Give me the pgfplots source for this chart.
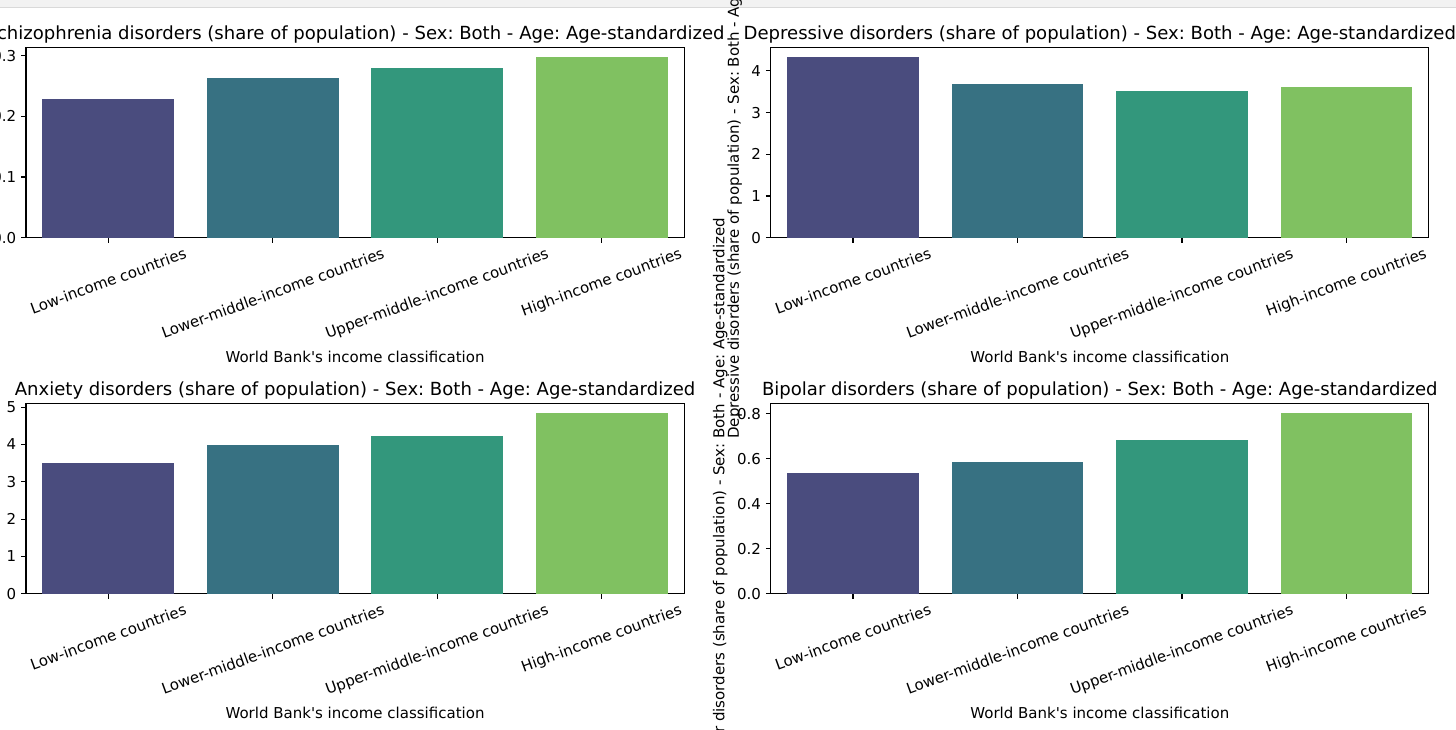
\documentclass[border=0pt]{standalone}
\usepackage{fontspec}
\setmainfont{DejaVu Sans}[Ligatures=TeXOff]
\usepackage{graphicx}
\usepackage{pgfplots}
\pgfplotsset{compat=1.18}
\frenchspacing

% seaborn viridis (4 colours, saturation 0.75)
\definecolor{c1}{HTML}{4A4C7E}
\definecolor{c2}{HTML}{377182}
\definecolor{c3}{HTML}{33977C}
\definecolor{c4}{HTML}{80C161}

\pgfplotsset{
  mpl/.style={
    scale only axis,
    width=473.8pt, height=136.8pt,
    anchor=south west,
    xmin=-0.5, xmax=3.5, ymin=0,
    axis line style={line width=0.8pt},
    every tick/.style={black, line width=0.8pt},
    tick align=outside,
    major tick length=3.5pt,
    xtick={0,1,2,3},
    xticklabels={\rotatebox{20}{Low-income countries},
                 \rotatebox{20}{Lower-middle-income countries},
                 \rotatebox{20}{Upper-middle-income countries},
                 \rotatebox{20}{High-income countries}},
    xticklabel style={anchor=north},
    xtick pos=bottom, ytick pos=left,
    /pgf/number format/assume math mode=true,
    tick label style={font=\fontsize{10.8}{13}\selectfont},
    label style={font=\fontsize{10.8}{13}\selectfont},
    xlabel={World Bank's income classification},
    title style={at={(0.5,1)}, anchor=base, yshift=0pt, font=\fontsize{13}{15.5}\selectfont},
    bar width=0.8,
  },
  bars/.style={ybar, bar shift=0pt, draw=none, fill=#1},
}

\begin{document}
\begin{tikzpicture}
\clip (0,0) rectangle (1048.32pt,524.88pt);
\fill[black!5] (0,519.8pt) rectangle (1048.32pt,524.88pt);
\draw[black!15, line width=0.7pt] (0,519.8pt) -- (1048.32pt,519.8pt);

% Schizophrenia
\begin{axis}[mpl, at={(18.72pt,353.74pt)}, ymax=0.3132,
  ytick={0,0.1,0.2,0.3},
  yticklabel style={/pgf/number format/.cd, fixed, fixed zerofill, precision=1},
  title={Schizophrenia disorders (share of population) - Sex: Both - Age: Age-standardized},
  ylabel={Schizophrenia disorders (share of population) - Sex: Both - Age: Age-standardized}]
\addplot[bars=c1] coordinates {(0,0.2286)};
\addplot[bars=c2] coordinates {(1,0.2627)};
\addplot[bars=c3] coordinates {(2,0.2802)};
\addplot[bars=c4] coordinates {(3,0.2980)};
\end{axis}

% Depressive
\begin{axis}[mpl, at={(554.94pt,353.74pt)}, ymax=4.557,
  ytick={0,1,2,3,4},
  title={Depressive disorders (share of population) - Sex: Both - Age: Age-standardized},
  ylabel={Depressive disorders (share of population) - Sex: Both - Age: Age-standardized}]
\addplot[bars=c1] coordinates {(0,4.34)};
\addplot[bars=c2] coordinates {(1,3.686)};
\addplot[bars=c3] coordinates {(2,3.518)};
\addplot[bars=c4] coordinates {(3,3.62)};
\end{axis}

% Anxiety
\begin{axis}[mpl, at={(18.72pt,97.4pt)}, ymax=5.091,
  ytick={0,1,2,3,4,5},
  title={Anxiety disorders (share of population) - Sex: Both - Age: Age-standardized},
  ylabel={Anxiety disorders (share of population) - Sex: Both - Age: Age-standardized}]
\addplot[bars=c1] coordinates {(0,3.50)};
\addplot[bars=c2] coordinates {(1,3.99)};
\addplot[bars=c3] coordinates {(2,4.22)};
\addplot[bars=c4] coordinates {(3,4.848)};
\end{axis}

% Bipolar
\begin{axis}[mpl, at={(554.94pt,97.4pt)}, ymax=0.8443,
  ytick={0,0.2,0.4,0.6,0.8},
  yticklabel style={/pgf/number format/.cd, fixed, fixed zerofill, precision=1},
  title={Bipolar disorders (share of population) - Sex: Both - Age: Age-standardized},
  ylabel={Bipolar disorders (share of population) - Sex: Both - Age: Age-standardized}]
\addplot[bars=c1] coordinates {(0,0.537)};
\addplot[bars=c2] coordinates {(1,0.585)};
\addplot[bars=c3] coordinates {(2,0.682)};
\addplot[bars=c4] coordinates {(3,0.804)};
\end{axis}
\end{tikzpicture}
\end{document}
